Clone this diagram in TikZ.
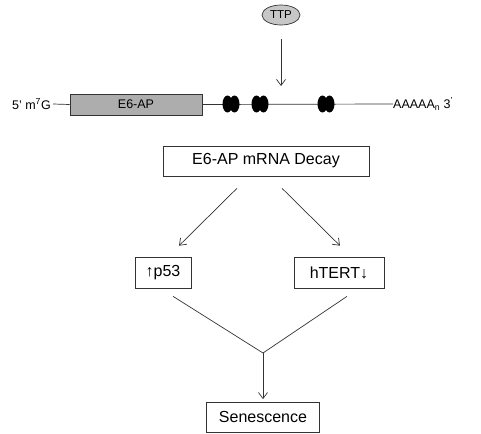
\documentclass[tikz,border=0pt]{standalone}
\usepackage{fontspec}
\setmainfont{Liberation Sans}
\usetikzlibrary{arrows.meta,shapes.geometric}
\begin{document}
\begin{tikzpicture}[x=1pt,y=-1pt,
  every node/.style={inner sep=0pt},
  arr/.style={draw=black!80,line width=0.7pt,-{Straight Barb[length=6pt,width=9pt,line width=0.7pt]}},
  ln/.style={draw=black!80,line width=0.7pt},
  box/.style={draw=black!80,line width=0.8pt,fill=white,minimum height=30pt,font=\fontsize{16}{19}\selectfont},
  ovl/.style={ellipse,fill=black,minimum width=10pt,minimum height=17pt},
  lab/.style={font=\fontsize{12.5}{15}\selectfont}]
\useasboundingbox (0,0) rectangle (481,433);
% TTP
\node[ellipse,draw=black!80,line width=0.7pt,fill=black!22,minimum width=38pt,minimum height=20pt,font=\fontsize{11.5}{13}\selectfont] (ttp) at (281,15) {TTP};
\coordinate (hit) at (281,86);
\draw[arr,shorten <=14pt] (ttp.south) -- (hit);
% mRNA
\node[lab,anchor=east] (cap) at (51,104) {5' m\textsuperscript{7}G};
\node[draw=black!80,line width=0.8pt,fill=black!32,minimum width=132pt,minimum height=21pt,lab] (orf) at (136,104.5) {E6-AP};
\node[lab,anchor=west] (tail) at (393,104) {AAAAA\textsubscript{n} 3\textsuperscript{'}};
\draw[ln] ([xshift=2pt]cap.east) -- (orf.west);
\draw[ln] (orf.east) -- (tail.west);
\foreach \x/\n in {231/a,260/b,326/c}{
  \node[ovl] (\n1) at (\x-3.5,104) {};
  \node[ovl] (\n2) at (\x+3.5,104) {};
}
% boxes
\node[box,minimum width=206pt] (decay) at (266,161) {E6-AP mRNA Decay};
\node[box,minimum width=56pt,minimum height=31pt] (p53) at (163,272.5) {↑p53};
\node[box,minimum width=90pt,minimum height=31pt] (htert) at (339,272.5) {hTERT↓};
\node[box,minimum width=113pt] (sen) at (263,417) {Senescence};
% connectors
\draw[arr,shorten <=17pt,shorten >=15.5pt] ([xshift=-17pt]decay.south) -- ([xshift=5pt]p53.north);
\draw[arr,shorten <=17pt,shorten >=15.5pt] ([xshift=4pt]decay.south) -- ([xshift=12pt]htert.north);
\coordinate (j) at (263,353);
\draw[ln,shorten <=15pt] ([xshift=-2.6pt]p53.south) -- (j);
\draw[ln,shorten <=14.2pt] ([xshift=19.8pt]htert.south) -- (j);
\draw[arr,shorten >=2.5pt] (j) -- (sen.north);
\end{tikzpicture}
\end{document}
